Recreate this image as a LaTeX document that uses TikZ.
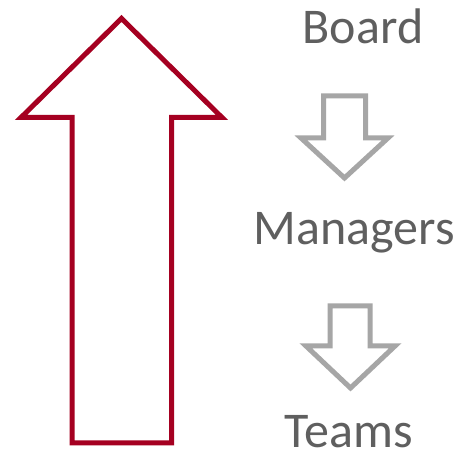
\documentclass[tikz,border=0pt]{standalone}
\usepackage{fontspec}
\setmainfont{Carlito}
\definecolor{crimson}{HTML}{A50021}
\definecolor{arrowgray}{HTML}{A6A6A6}
\definecolor{textgray}{HTML}{5F5F5F}
\begin{document}
\begin{tikzpicture}[x=1pt,y=-1pt,
  bigarrow/.style={draw=crimson,line width=5pt,line join=miter,fill=white},
  smallarrow/.style={draw=arrowgray,line width=5pt,line join=miter,fill=white},
  label/.style={anchor=base,text=textgray,inner sep=0pt,text depth=0pt,font=\fontsize{50}{60}\selectfont}]
\useasboundingbox (0,0) rectangle (461,454);
\fill[white] (0,0) rectangle (461,454);
% big red upward arrow
\draw[bigarrow] (121.5,18.5) -- (222,117.5) -- (171.5,117.5) -- (171.5,443) -- (72,443) -- (72,117.5) -- (21,117.5) -- cycle;
% small gray down arrows
\draw[smallarrow] (323.5,96) -- (365.5,96) -- (365.5,138) -- (388,138) -- (344.5,178) -- (301,138) -- (323.5,138) -- cycle;
\draw[smallarrow] (330,306) -- (370,306) -- (370,346) -- (395,346) -- (350.5,388) -- (306,346) -- (330,346) -- cycle;
% labels
\node[label] (board) at (363,44) {Board};
\node[label] (managers) at (354,245) {Managers};
\node[label] (teams) at (349,448) {Teams};
\end{tikzpicture}
\end{document}
